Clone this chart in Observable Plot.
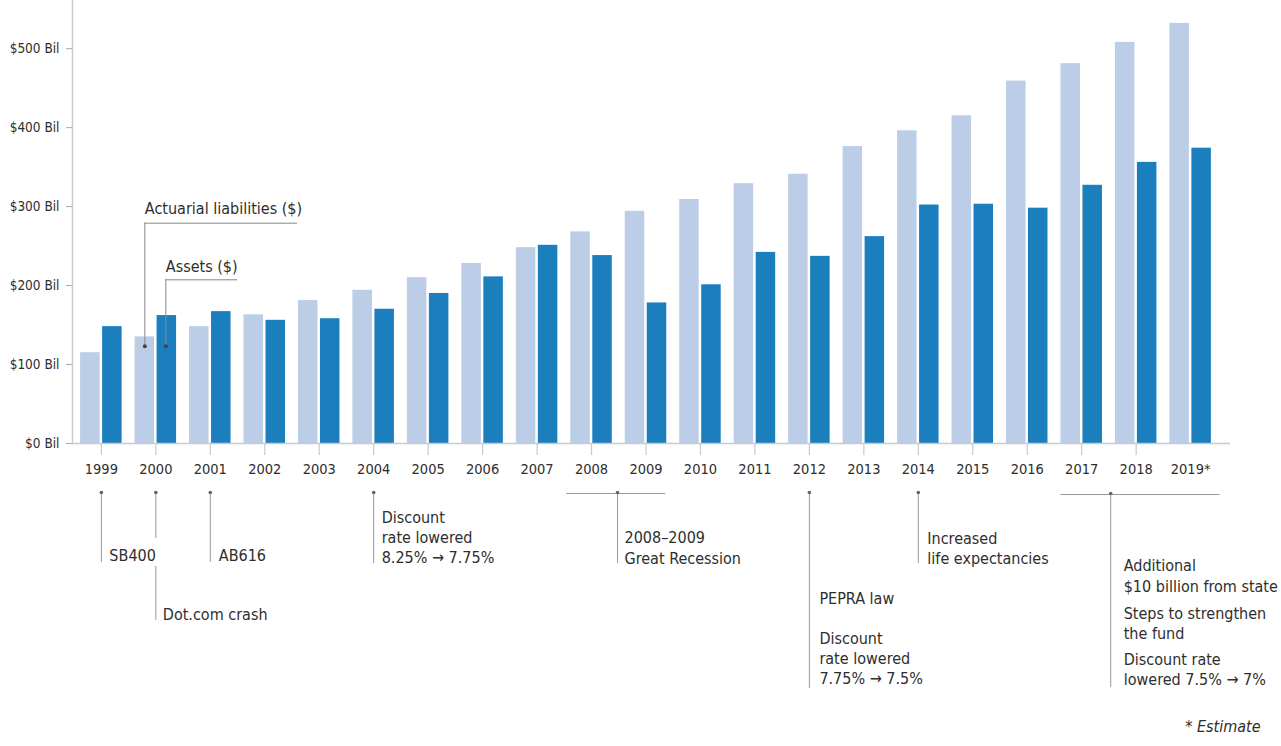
<!DOCTYPE html>
<html>
<head>
<meta charset="utf-8">
<script src="https://cdn.jsdelivr.net/npm/d3@7"></script>
<script src="https://cdn.jsdelivr.net/npm/@observablehq/plot@0.6"></script>
<style>
  html, body { margin: 0; padding: 0; background: #fff; }
  #chart svg { display: block; }
  #chart svg text { font-stretch: condensed; }
</style>
</head>
<body>
<div id="chart"></div>
<script>
// ---------- data ----------
const years = ["1999","2000","2001","2002","2003","2004","2005","2006","2007","2008","2009",
               "2010","2011","2012","2013","2014","2015","2016","2017","2018","2019"];
const yearLabels = ["1999","2000","2001","2002","2003","2004","2005","2006","2007","2008","2009",
                    "2010","2011","2012","2013","2014","2015","2016","2017","2018","2019*"];
// $ billions
const liabilities = [115,135,148,163,181,194,210,228,248,268,294,309,329,341,376,396,415,459,481,508,532];
const assets      = [148,162,167,156,158,170,190,211,251,238,178,201,242,237,262,302,303,298,327,356,374];
const yTicks = [0,100,200,300,400,500];
const seriesNames = ["Actuarial liabilities ($)", "Assets ($)"];
const footnote = "* Estimate";

// timeline events: anchor year + text
const events = [
  {year: "1999", text: "SB400"},
  {year: "2000", text: "Dot.com crash"},
  {year: "2001", text: "AB616"},
  {year: "2004", text: "Discount\nrate lowered\n8.25% → 7.75%"},
  {year: "2008", text: "2008–2009\nGreat Recession"},
  {year: "2012", text: "PEPRA law"},
  {year: "2012", text: "Discount\nrate lowered\n7.75% → 7.5%"},
  {year: "2014", text: "Increased\nlife expectancies"},
  {year: "2017", text: "Additional\n$10 billion from state"},
  {year: "2017", text: "Steps to strengthen\nthe fund"},
  {year: "2017", text: "Discount rate\nlowered 7.5% → 7%"}
];

// ---------- layout / style ----------
const W = 1281, H = 746;
const FONT = '"DejaVu Sans Condensed", "DejaVu Sans", sans-serif';
const LIGHT = "#bccde8", DARK = "#1c7fbd", AXIS = "#c5cad6", LEAD = "#9a9a9a", INK = "#2e2e2e";

const rows = years.map((year, i) => ({year, liabilities: liabilities[i], assets: assets[i]}));

// per-event placement (pixel offsets from band centre and from the x axis)
const eventLayout = [
  {dx: 8,  dy: 111},
  {dx: 7,  dy: 170},
  {dx: 8.5,dy: 111},
  {dx: 8,  dy: 93},
  {dx: 33, dy: 103.5},
  {dx: 10, dy: 154},
  {dx: 10, dy: 214},
  {dx: 9,  dy: 104},
  {dx: 42, dy: 131.5},
  {dx: 42, dy: 179},
  {dx: 42, dy: 225}
];
// leader lines below axis: [year, dx, from, to] (pixels below axis)
const leaders = [
  ["1999", 0, 49, 119],
  ["2000", 0, 49, 95],
  ["2000", 0, 123, 177],
  ["2001", 0, 49, 119],
  ["2004", 0, 49, 120],
  ["2008", 26, 49, 120],
  ["2012", 0, 49, 245],
  ["2014", 0, 49, 120],
  ["2017", 29, 50, 244]
];

const k = v => () => v;

const marks = [
  Plot.barY(rows, {x: "year", y: "liabilities", fill: LIGHT, insetRight: 22}),
  Plot.barY(rows, {x: "year", y: "assets", fill: DARK, insetLeft: 22}),
  Plot.frame({anchor: "left", stroke: AXIS, strokeWidth: 1.5}),
  Plot.ruleY([0], {stroke: AXIS, strokeWidth: 1.5, insetRight: -11}),
  Plot.axisY({ticks: yTicks, tickFormat: d => `$${d} Bil`, tickSize: 6, tickPadding: 7,
              fontSize: 13.5, stroke: "#aaa", fill: INK}),
  // x ticks (no tick under the estimate year)
  Plot.ruleX(years.slice(0, -1), {x: d => d, y1: 0, y2: 0, insetBottom: -12, stroke: AXIS, strokeWidth: 1.2}),
  Plot.text(years, {x: d => d, text: (d, i) => yearLabels[i], frameAnchor: "bottom", dy: 30,
                    fontSize: 14.5, fill: INK}),

  // series call-outs
  Plot.text([seriesNames[0]], {x: k("2000"), y: k(297.6), dx: -11, text: d => d, textAnchor: "start",
                               fontSize: 16, fill: INK}),
  Plot.ruleY([279], {x1: k("2000"), x2: k("2002"), insetLeft: 9.5, insetRight: -12, stroke: "#888"}),
  Plot.ruleX(["2000"], {x: d => d, dx: -11, y1: 123, y2: 279, stroke: "#888"}),
  Plot.text([seriesNames[1]], {x: k("2000"), y: k(223.3), dx: 10, text: d => d, textAnchor: "start",
                               fontSize: 16, fill: INK}),
  Plot.ruleY([207.3], {x1: k("2000"), x2: k("2001"), insetLeft: 30.5, insetRight: -6.7, stroke: "#888"}),
  Plot.ruleX(["2000"], {x: d => d, dx: 10, y1: 123, y2: 207.3, stroke: "#888"}),
  Plot.dot([0], {x: k("2000"), y: k(123), dx: -11, r: 2, fill: "#444", stroke: null}),
  Plot.dot([0], {x: k("2000"), y: k(123), dx: 10, r: 2, fill: "#444", stroke: null}),

  // brackets for multi-year events
  Plot.ruleY([0], {x1: k("2008"), x2: k("2009"), insetLeft: -4, insetRight: 1, dy: 50, stroke: LEAD}),
  Plot.ruleY([0], {x1: k("2017"), x2: k("2019"), insetLeft: 0, insetRight: -8.5, dy: 51, stroke: LEAD}),

  // footnote
  Plot.text([footnote], {frameAnchor: "bottom-right", dx: 41, dy: 288.7, text: d => d, textAnchor: "end",
                         fontSize: 16, fontStyle: "italic", fill: INK})
];

leaders.forEach(([year, dx, from, to]) => {
  marks.push(Plot.ruleX([year], {x: d => d, dx, y1: 0, y2: 0, insetTop: from, insetBottom: -to,
                                 stroke: LEAD, strokeWidth: 1}));
  if (from < 60) marks.push(Plot.dot([year], {x: d => d, dx, frameAnchor: "bottom", dy: from, r: 1.8,
                                              fill: "#666", stroke: null}));
});

events.forEach((e, i) => {
  const L = eventLayout[i];
  marks.push(Plot.text([e], {x: "year", text: "text", frameAnchor: "bottom", dx: L.dx, dy: L.dy,
                             textAnchor: "start", lineAnchor: "middle", lineHeight: 1.26,
                             fontSize: 16, fill: INK}));
});

const chart = Plot.plot({
  width: W, height: H,
  marginLeft: 72, marginRight: 62, marginTop: 0, marginBottom: 303,
  style: {fontFamily: FONT, fontStretch: "condensed", background: "#fff", color: INK, overflow: "visible"},
  x: {type: "band", domain: years, paddingInner: 0.238, paddingOuter: 0.149, round: false, axis: null},
  y: {domain: [0, 561]},
  marks
});
document.getElementById("chart").appendChild(chart);
</script>
</body>
</html>
